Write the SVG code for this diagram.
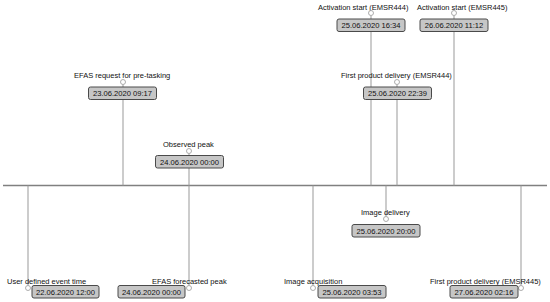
<svg xmlns="http://www.w3.org/2000/svg" width="550" height="302" viewBox="0 0 550 302">
<style>
.lbl{font-family:"Liberation Sans",Arial,sans-serif;font-size:7.5px;fill:#111}
.bt{font-family:"Liberation Sans",Arial,sans-serif;font-size:7.6px;fill:#111;text-anchor:middle}
.box{fill:#c6c6c6;stroke:#4a4a4a;stroke-width:1}
.dot{fill:#fff;stroke:#999;stroke-width:0.8}
.stem{stroke:#999;stroke-width:1;fill:none}
.axis{stroke:#808080;stroke-width:1.5;fill:none}
</style>
<rect width="550" height="302" fill="#fff"/>
<g id="connectors">
<line class="axis" x1="3" y1="185.5" x2="547" y2="185.5"/>
<line class="stem" x1="28" y1="185.5" x2="28" y2="285.5"/>
<line class="stem" x1="123" y1="185.5" x2="123" y2="84.5"/>
<line class="stem" x1="189" y1="185.5" x2="189" y2="153.5"/>
<line class="stem" x1="189" y1="185.5" x2="189" y2="285.5"/>
<line class="stem" x1="313" y1="185.5" x2="313" y2="285.5"/>
<line class="stem" x1="371" y1="185.5" x2="371" y2="15.5"/>
<line class="stem" x1="386" y1="185.5" x2="386" y2="216.5"/>
<line class="stem" x1="397" y1="185.5" x2="397" y2="84.5"/>
<line class="stem" x1="454" y1="185.5" x2="454" y2="15.5"/>
<line class="stem" x1="521" y1="185.5" x2="521" y2="285.5"/>
</g>
<g id="n-activation-444">
<text class="lbl" x="318" y="9.5">Activation start (EMSR444)</text>
<circle class="dot" cx="371" cy="13" r="2.5"/>
<rect class="box" x="337" y="19" width="68" height="12.5" rx="2"/>
<text class="bt" x="371" y="28">25.06.2020 16:34</text>
</g>
<g id="n-activation-445">
<text class="lbl" x="417" y="9.5">Activation start (EMSR445)</text>
<circle class="dot" cx="454" cy="13" r="2.5"/>
<rect class="box" x="420" y="19" width="68" height="12.5" rx="2"/>
<text class="bt" x="454" y="28">26.06.2020 11:12</text>
</g>
<g id="n-efas-request">
<text class="lbl" x="74" y="78">EFAS request for pre-tasking</text>
<circle class="dot" cx="123" cy="82" r="2.5"/>
<rect class="box" x="88.5" y="87" width="68" height="12.5" rx="2"/>
<text class="bt" x="122.5" y="96">23.06.2020 09:17</text>
</g>
<g id="n-first-product-444">
<text class="lbl" x="341" y="78">First product delivery (EMSR444)</text>
<circle class="dot" cx="397" cy="82" r="2.5"/>
<rect class="box" x="363.5" y="87" width="68" height="12.5" rx="2"/>
<text class="bt" x="397.5" y="96">25.06.2020 22:39</text>
</g>
<g id="n-observed-peak">
<text class="lbl" x="163" y="147">Observed peak</text>
<circle class="dot" cx="189" cy="151" r="2.5"/>
<rect class="box" x="155.5" y="155.5" width="68" height="12.5" rx="2"/>
<text class="bt" x="189.5" y="164.5">24.06.2020 00:00</text>
</g>
<g id="n-image-delivery">
<text class="lbl" x="361" y="215">Image delivery</text>
<circle class="dot" cx="386" cy="219" r="2.5"/>
<rect class="box" x="352" y="224.5" width="68" height="12.5" rx="2"/>
<text class="bt" x="386" y="233.5">25.06.2020 20:00</text>
</g>
<g id="n-user-defined">
<text class="lbl" x="7" y="284">User defined event time</text>
<circle class="dot" cx="28" cy="288" r="2.5"/>
<rect class="box" x="32" y="285.5" width="67" height="12.5" rx="2"/>
<text class="bt" x="65.5" y="294.5">22.06.2020 12:00</text>
</g>
<g id="n-efas-forecast">
<text class="lbl" x="152" y="284">EFAS forecasted peak</text>
<circle class="dot" cx="189" cy="288" r="2.5"/>
<rect class="box" x="118" y="285.5" width="67" height="12.5" rx="2"/>
<text class="bt" x="151.5" y="294.5">24.06.2020 00:00</text>
</g>
<g id="n-image-acquisition">
<text class="lbl" x="284" y="284">Image acquisition</text>
<circle class="dot" cx="313" cy="288" r="2.5"/>
<rect class="box" x="318" y="285.5" width="68" height="12.5" rx="2"/>
<text class="bt" x="352" y="294.5">25.06.2020 03:53</text>
</g>
<g id="n-first-product-445">
<text class="lbl" x="430" y="284">First product delivery (EMSR445)</text>
<circle class="dot" cx="521" cy="288" r="2.5"/>
<rect class="box" x="450" y="285.5" width="68" height="12.5" rx="2"/>
<text class="bt" x="484" y="294.5">27.06.2020 02:16</text>
</g>
</svg>
